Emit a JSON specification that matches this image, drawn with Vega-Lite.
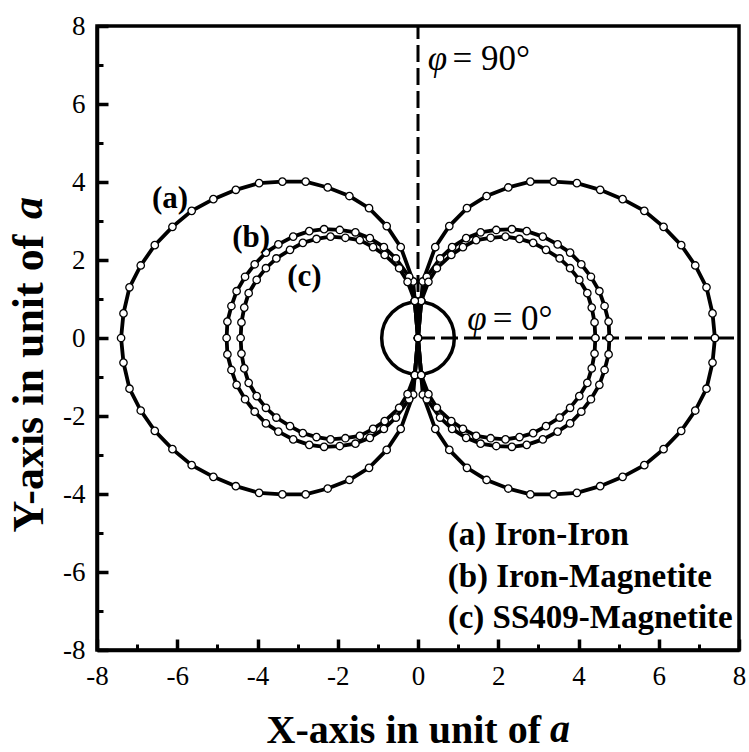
{
"$schema": "https://vega.github.io/schema/vega-lite/v6.json",
"width": 642, "height": 624,
"autosize": {"type": "none"},
"padding": {"left": 97, "top": 26, "right": 10, "bottom": 102},
"background": "white",
"config": {"view": {"stroke": "black", "strokeWidth": 3.5}, "font": "Liberation Serif",
  "axis": {"labelFont": "Liberation Serif", "labelFontSize": 27, "labelColor": "black", "titleFont": "Liberation Serif", "titleColor": "black"}},
"datasets": {
"curves": [
{"s":"a","o":0,"x":7.40,"y":0},{"s":"a","o":1,"x":7.34,"y":0.63},{"s":"a","o":2,"x":7.19,"y":1.30},{"s":"a","o":3,"x":6.91,"y":1.86},{"s":"a","o":4,"x":6.56,"y":2.38},{"s":"a","o":5,"x":6.12,"y":2.85},{"s":"a","o":6,"x":5.64,"y":3.26},{"s":"a","o":7,"x":5.10,"y":3.56},{"s":"a","o":8,"x":4.54,"y":3.80},{"s":"a","o":9,"x":3.96,"y":3.97},{"s":"a","o":10,"x":3.38,"y":4.01},{"s":"a","o":11,"x":2.80,"y":4.01},{"s":"a","o":12,"x":2.25,"y":3.86},{"s":"a","o":13,"x":1.71,"y":3.64},{"s":"a","o":14,"x":1.22,"y":3.33},{"s":"a","o":15,"x":0.78,"y":2.87},{"s":"a","o":16,"x":0.43,"y":2.33},{"s":"a","o":17,"x":0.12,"y":1.45},{"s":"a","o":18,"x":0.08,"y":0.95},
{"s":"a","o":19,"x":0,"y":0},
{"s":"a","o":20,"x":-0.08,"y":0.95},{"s":"a","o":21,"x":-0.12,"y":1.45},{"s":"a","o":22,"x":-0.43,"y":2.33},{"s":"a","o":23,"x":-0.78,"y":2.87},{"s":"a","o":24,"x":-1.22,"y":3.33},{"s":"a","o":25,"x":-1.71,"y":3.64},{"s":"a","o":26,"x":-2.25,"y":3.86},{"s":"a","o":27,"x":-2.80,"y":4.01},{"s":"a","o":28,"x":-3.38,"y":4.01},{"s":"a","o":29,"x":-3.96,"y":3.97},{"s":"a","o":30,"x":-4.54,"y":3.80},{"s":"a","o":31,"x":-5.10,"y":3.56},{"s":"a","o":32,"x":-5.64,"y":3.26},{"s":"a","o":33,"x":-6.12,"y":2.85},{"s":"a","o":34,"x":-6.56,"y":2.38},{"s":"a","o":35,"x":-6.91,"y":1.86},{"s":"a","o":36,"x":-7.19,"y":1.30},{"s":"a","o":37,"x":-7.34,"y":0.63},{"s":"a","o":38,"x":-7.40,"y":0},
{"s":"a","o":39,"x":-7.34,"y":-0.63},{"s":"a","o":40,"x":-7.19,"y":-1.30},{"s":"a","o":41,"x":-6.91,"y":-1.86},{"s":"a","o":42,"x":-6.56,"y":-2.38},{"s":"a","o":43,"x":-6.12,"y":-2.85},{"s":"a","o":44,"x":-5.64,"y":-3.26},{"s":"a","o":45,"x":-5.10,"y":-3.56},{"s":"a","o":46,"x":-4.54,"y":-3.80},{"s":"a","o":47,"x":-3.96,"y":-3.97},{"s":"a","o":48,"x":-3.38,"y":-4.01},{"s":"a","o":49,"x":-2.80,"y":-4.01},{"s":"a","o":50,"x":-2.25,"y":-3.86},{"s":"a","o":51,"x":-1.71,"y":-3.64},{"s":"a","o":52,"x":-1.22,"y":-3.33},{"s":"a","o":53,"x":-0.78,"y":-2.87},{"s":"a","o":54,"x":-0.43,"y":-2.33},{"s":"a","o":55,"x":-0.12,"y":-1.45},{"s":"a","o":56,"x":-0.08,"y":-0.95},
{"s":"a","o":57,"x":0,"y":0},
{"s":"a","o":58,"x":0.08,"y":-0.95},{"s":"a","o":59,"x":0.12,"y":-1.45},{"s":"a","o":60,"x":0.43,"y":-2.33},{"s":"a","o":61,"x":0.78,"y":-2.87},{"s":"a","o":62,"x":1.22,"y":-3.33},{"s":"a","o":63,"x":1.71,"y":-3.64},{"s":"a","o":64,"x":2.25,"y":-3.86},{"s":"a","o":65,"x":2.80,"y":-4.01},{"s":"a","o":66,"x":3.38,"y":-4.01},{"s":"a","o":67,"x":3.96,"y":-3.97},{"s":"a","o":68,"x":4.54,"y":-3.80},{"s":"a","o":69,"x":5.10,"y":-3.56},{"s":"a","o":70,"x":5.64,"y":-3.26},{"s":"a","o":71,"x":6.12,"y":-2.85},{"s":"a","o":72,"x":6.56,"y":-2.38},{"s":"a","o":73,"x":6.91,"y":-1.86},{"s":"a","o":74,"x":7.19,"y":-1.30},{"s":"a","o":75,"x":7.34,"y":-0.63},{"s":"a","o":76,"x":7.40,"y":0},

{"s":"b","o":0,"x":4.77,"y":0},{"s":"b","o":1,"x":4.75,"y":0.42},{"s":"b","o":2,"x":4.65,"y":0.82},{"s":"b","o":3,"x":4.52,"y":1.20},{"s":"b","o":4,"x":4.31,"y":1.57},{"s":"b","o":5,"x":4.07,"y":1.89},{"s":"b","o":6,"x":3.79,"y":2.19},{"s":"b","o":7,"x":3.48,"y":2.40},{"s":"b","o":8,"x":3.11,"y":2.60},{"s":"b","o":9,"x":2.71,"y":2.74},{"s":"b","o":10,"x":2.34,"y":2.79},{"s":"b","o":11,"x":1.95,"y":2.77},{"s":"b","o":12,"x":1.56,"y":2.71},{"s":"b","o":13,"x":1.20,"y":2.56},{"s":"b","o":14,"x":0.85,"y":2.33},{"s":"b","o":15,"x":0.55,"y":2.04},{"s":"b","o":16,"x":0.22,"y":1.57},{"s":"b","o":17,"x":0.08,"y":0.95},
{"s":"b","o":18,"x":0,"y":0},
{"s":"b","o":19,"x":-0.08,"y":0.95},{"s":"b","o":20,"x":-0.22,"y":1.57},{"s":"b","o":21,"x":-0.55,"y":2.04},{"s":"b","o":22,"x":-0.85,"y":2.33},{"s":"b","o":23,"x":-1.20,"y":2.56},{"s":"b","o":24,"x":-1.56,"y":2.71},{"s":"b","o":25,"x":-1.95,"y":2.77},{"s":"b","o":26,"x":-2.34,"y":2.79},{"s":"b","o":27,"x":-2.71,"y":2.74},{"s":"b","o":28,"x":-3.11,"y":2.60},{"s":"b","o":29,"x":-3.48,"y":2.40},{"s":"b","o":30,"x":-3.79,"y":2.19},{"s":"b","o":31,"x":-4.07,"y":1.89},{"s":"b","o":32,"x":-4.31,"y":1.57},{"s":"b","o":33,"x":-4.52,"y":1.20},{"s":"b","o":34,"x":-4.65,"y":0.82},{"s":"b","o":35,"x":-4.75,"y":0.42},{"s":"b","o":36,"x":-4.77,"y":0},
{"s":"b","o":37,"x":-4.75,"y":-0.42},{"s":"b","o":38,"x":-4.65,"y":-0.82},{"s":"b","o":39,"x":-4.52,"y":-1.20},{"s":"b","o":40,"x":-4.31,"y":-1.57},{"s":"b","o":41,"x":-4.07,"y":-1.89},{"s":"b","o":42,"x":-3.79,"y":-2.19},{"s":"b","o":43,"x":-3.48,"y":-2.40},{"s":"b","o":44,"x":-3.11,"y":-2.60},{"s":"b","o":45,"x":-2.71,"y":-2.74},{"s":"b","o":46,"x":-2.34,"y":-2.79},{"s":"b","o":47,"x":-1.95,"y":-2.77},{"s":"b","o":48,"x":-1.56,"y":-2.71},{"s":"b","o":49,"x":-1.20,"y":-2.56},{"s":"b","o":50,"x":-0.85,"y":-2.33},{"s":"b","o":51,"x":-0.55,"y":-2.04},{"s":"b","o":52,"x":-0.22,"y":-1.57},{"s":"b","o":53,"x":-0.08,"y":-0.95},
{"s":"b","o":54,"x":0,"y":0},
{"s":"b","o":55,"x":0.08,"y":-0.95},{"s":"b","o":56,"x":0.22,"y":-1.57},{"s":"b","o":57,"x":0.55,"y":-2.04},{"s":"b","o":58,"x":0.85,"y":-2.33},{"s":"b","o":59,"x":1.20,"y":-2.56},{"s":"b","o":60,"x":1.56,"y":-2.71},{"s":"b","o":61,"x":1.95,"y":-2.77},{"s":"b","o":62,"x":2.34,"y":-2.79},{"s":"b","o":63,"x":2.71,"y":-2.74},{"s":"b","o":64,"x":3.11,"y":-2.60},{"s":"b","o":65,"x":3.48,"y":-2.40},{"s":"b","o":66,"x":3.79,"y":-2.19},{"s":"b","o":67,"x":4.07,"y":-1.89},{"s":"b","o":68,"x":4.31,"y":-1.57},{"s":"b","o":69,"x":4.52,"y":-1.20},{"s":"b","o":70,"x":4.65,"y":-0.82},{"s":"b","o":71,"x":4.75,"y":-0.42},{"s":"b","o":72,"x":4.77,"y":0},

{"s":"c","o":0,"x":4.42,"y":0},{"s":"c","o":1,"x":4.40,"y":0.40},{"s":"c","o":2,"x":4.33,"y":0.78},{"s":"c","o":3,"x":4.22,"y":1.15},{"s":"c","o":4,"x":4.02,"y":1.49},{"s":"c","o":5,"x":3.79,"y":1.79},{"s":"c","o":6,"x":3.53,"y":2.04},{"s":"c","o":7,"x":3.19,"y":2.26},{"s":"c","o":8,"x":2.87,"y":2.44},{"s":"c","o":9,"x":2.53,"y":2.54},{"s":"c","o":10,"x":2.18,"y":2.60},{"s":"c","o":11,"x":1.81,"y":2.57},{"s":"c","o":12,"x":1.45,"y":2.51},{"s":"c","o":13,"x":1.12,"y":2.33},{"s":"c","o":14,"x":0.83,"y":2.13},{"s":"c","o":15,"x":0.47,"y":1.79},{"s":"c","o":16,"x":0.26,"y":1.44},{"s":"c","o":17,"x":0.08,"y":0.95},
{"s":"c","o":18,"x":0,"y":0},
{"s":"c","o":19,"x":-0.08,"y":0.95},{"s":"c","o":20,"x":-0.26,"y":1.44},{"s":"c","o":21,"x":-0.47,"y":1.79},{"s":"c","o":22,"x":-0.83,"y":2.13},{"s":"c","o":23,"x":-1.12,"y":2.33},{"s":"c","o":24,"x":-1.45,"y":2.51},{"s":"c","o":25,"x":-1.81,"y":2.57},{"s":"c","o":26,"x":-2.18,"y":2.60},{"s":"c","o":27,"x":-2.53,"y":2.54},{"s":"c","o":28,"x":-2.87,"y":2.44},{"s":"c","o":29,"x":-3.19,"y":2.26},{"s":"c","o":30,"x":-3.53,"y":2.04},{"s":"c","o":31,"x":-3.79,"y":1.79},{"s":"c","o":32,"x":-4.02,"y":1.49},{"s":"c","o":33,"x":-4.22,"y":1.15},{"s":"c","o":34,"x":-4.33,"y":0.78},{"s":"c","o":35,"x":-4.40,"y":0.40},{"s":"c","o":36,"x":-4.42,"y":0},
{"s":"c","o":37,"x":-4.40,"y":-0.40},{"s":"c","o":38,"x":-4.33,"y":-0.78},{"s":"c","o":39,"x":-4.22,"y":-1.15},{"s":"c","o":40,"x":-4.02,"y":-1.49},{"s":"c","o":41,"x":-3.79,"y":-1.79},{"s":"c","o":42,"x":-3.53,"y":-2.04},{"s":"c","o":43,"x":-3.19,"y":-2.26},{"s":"c","o":44,"x":-2.87,"y":-2.44},{"s":"c","o":45,"x":-2.53,"y":-2.54},{"s":"c","o":46,"x":-2.18,"y":-2.60},{"s":"c","o":47,"x":-1.81,"y":-2.57},{"s":"c","o":48,"x":-1.45,"y":-2.51},{"s":"c","o":49,"x":-1.12,"y":-2.33},{"s":"c","o":50,"x":-0.83,"y":-2.13},{"s":"c","o":51,"x":-0.47,"y":-1.79},{"s":"c","o":52,"x":-0.26,"y":-1.44},{"s":"c","o":53,"x":-0.08,"y":-0.95},
{"s":"c","o":54,"x":0,"y":0},
{"s":"c","o":55,"x":0.08,"y":-0.95},{"s":"c","o":56,"x":0.26,"y":-1.44},{"s":"c","o":57,"x":0.47,"y":-1.79},{"s":"c","o":58,"x":0.83,"y":-2.13},{"s":"c","o":59,"x":1.12,"y":-2.33},{"s":"c","o":60,"x":1.45,"y":-2.51},{"s":"c","o":61,"x":1.81,"y":-2.57},{"s":"c","o":62,"x":2.18,"y":-2.60},{"s":"c","o":63,"x":2.53,"y":-2.54},{"s":"c","o":64,"x":2.87,"y":-2.44},{"s":"c","o":65,"x":3.19,"y":-2.26},{"s":"c","o":66,"x":3.53,"y":-2.04},{"s":"c","o":67,"x":3.79,"y":-1.79},{"s":"c","o":68,"x":4.02,"y":-1.49},{"s":"c","o":69,"x":4.22,"y":-1.15},{"s":"c","o":70,"x":4.33,"y":-0.78},{"s":"c","o":71,"x":4.40,"y":-0.40},{"s":"c","o":72,"x":4.42,"y":0}
]
},
"layer": [
{
"data": {"values": [{"x": 0, "y": 0, "x2": 0, "y2": 8}, {"x": 0, "y": 0, "x2": 8, "y2": 0}]},
"mark": {"type": "rule", "strokeDash": [17, 6], "strokeWidth": 3, "color": "black"},
"encoding": {
"x": {"field": "x", "type": "quantitative", "scale": {"domain": [-8, 8], "nice": false, "zero": false}, "axis": null},
"y": {"field": "y", "type": "quantitative", "scale": {"domain": [-8, 8], "nice": false, "zero": false}, "axis": null},
"x2": {"field": "x2"}, "y2": {"field": "y2"}
}
},
{
"data": {"values": [{"x": 0, "y": 0}]},
"mark": {"type": "point", "shape": "circle", "filled": false, "size": 5281, "stroke": "black", "strokeWidth": 3.5, "opacity": 1},
"encoding": {
"x": {"field": "x", "type": "quantitative", "axis": null},
"y": {"field": "y", "type": "quantitative", "axis": null}
}
},
{
"data": {"name": "curves"},
"mark": {"type": "line", "color": "black", "strokeWidth": 3.8},
"encoding": {
"x": {"field": "x", "type": "quantitative", "axis": {"orient": "bottom", "values": [-8, -6, -4, -2, 0, 2, 4, 6, 8], "tickSize": -11, "tickWidth": 3.5, "tickColor": "black", "domainColor": "black", "domainWidth": 3.5, "labelFont": "Liberation Serif", "labelFontSize": 27, "labelColor": "black", "labelPadding": 24, "labelExpr": "'' + datum.value", "labelFlush": false, "labelOverlap": false, "grid": false, "title": "X-axis in unit of", "titleFont": "Liberation Serif", "titleFontSize": 40, "titleFontWeight": "bold", "titleColor": "black", "titleBaseline": "alphabetic", "titleAlign": "left", "titleAnchor": "start", "titleX": 169, "titleY": 92}},
"y": {"field": "y", "type": "quantitative", "axis": {"orient": "left", "values": [-8, -6, -4, -2, 0, 2, 4, 6, 8], "tickSize": -11, "tickWidth": 3.5, "tickColor": "black", "domainColor": "black", "domainWidth": 3.5, "labelFont": "Liberation Serif", "labelFontSize": 27, "labelColor": "black", "labelPadding": 23, "labelExpr": "'' + datum.value", "labelFlush": false, "labelOverlap": false, "grid": false, "title": "Y-axis in unit of", "titleFont": "Liberation Serif", "titleFontSize": 44, "titleFontWeight": "bold", "titleColor": "black", "titleAngle": 270, "titleBaseline": "alphabetic", "titleAlign": "left", "titleAnchor": "start", "titleX": -55, "titleY": 506}},
"detail": {"field": "s"},
"order": {"field": "o", "type": "quantitative"}
}
},
{
"data": {"name": "curves"},
"mark": {"type": "point", "shape": "circle", "filled": true, "fill": "white", "stroke": "black", "strokeWidth": 1.3, "size": 55, "opacity": 1},
"encoding": {
"x": {"field": "x", "type": "quantitative", "axis": null},
"y": {"field": "y", "type": "quantitative", "axis": null}
}
},
{
"data": {"values": [{"x": -6.18, "y": 3.33, "t": "(a)"}, {"x": -4.16, "y": 2.33, "t": "(b)"}, {"x": -2.83, "y": 1.33, "t": "(c)"}]},
"mark": {"type": "text", "font": "Liberation Serif", "fontSize": 31, "fontWeight": "bold", "align": "center", "baseline": "alphabetic", "color": "black"},
"encoding": {"x": {"field": "x", "type": "quantitative", "axis": null}, "y": {"field": "y", "type": "quantitative", "axis": null}, "text": {"field": "t"}}
},
{
"data": {"values": [{"x": 0.74, "y": -5.31, "t": "(a) Iron-Iron"}, {"x": 0.74, "y": -6.39, "t": "(b) Iron-Magnetite"}, {"x": 0.74, "y": -7.44, "t": "(c) SS409-Magnetite"}]},
"mark": {"type": "text", "font": "Liberation Serif", "fontSize": 33, "fontWeight": "bold", "align": "left", "baseline": "alphabetic", "color": "black"},
"encoding": {"x": {"field": "x", "type": "quantitative", "axis": null}, "y": {"field": "y", "type": "quantitative", "axis": null}, "text": {"field": "t"}}
},
{
"data": {"values": [{"x": 0.24, "y": 6.87, "t": "φ"}, {"x": 1.23, "y": 0.2, "t": "φ"}]},
"mark": {"type": "text", "font": "Liberation Serif", "fontSize": 35, "fontStyle": "italic", "align": "left", "baseline": "alphabetic", "color": "black"},
"encoding": {"x": {"field": "x", "type": "quantitative", "axis": null}, "y": {"field": "y", "type": "quantitative", "axis": null}, "text": {"field": "t"}}
},
{
"data": {"values": [{"x": 0.86, "y": 6.87, "t": "= 90°"}, {"x": 1.86, "y": 0.2, "t": "= 0°"}]},
"mark": {"type": "text", "font": "Liberation Serif", "fontSize": 35, "align": "left", "baseline": "alphabetic", "color": "black"},
"encoding": {"x": {"field": "x", "type": "quantitative", "axis": null}, "y": {"field": "y", "type": "quantitative", "axis": null}, "text": {"field": "t"}}
},
{
"data": {"values": [{"x": 3.29, "y": -10.36, "t": "a"}]},
"mark": {"type": "text", "font": "Liberation Serif", "fontSize": 40, "fontWeight": "bold", "fontStyle": "italic", "align": "left", "baseline": "alphabetic", "color": "black"},
"encoding": {"x": {"field": "x", "type": "quantitative", "axis": null}, "y": {"field": "y", "type": "quantitative", "axis": null}, "text": {"field": "t"}}
},
{
"data": {"values": [{"x": -9.38, "y": 3.05, "t": "a"}]},
"mark": {"type": "text", "font": "Liberation Serif", "fontSize": 44, "fontWeight": "bold", "fontStyle": "italic", "angle": 270, "align": "left", "baseline": "alphabetic", "color": "black"},
"encoding": {"x": {"field": "x", "type": "quantitative", "axis": null}, "y": {"field": "y", "type": "quantitative", "axis": null}, "text": {"field": "t"}}
},
{
"data": {"values": [{"x": 0, "y": 0}]},
"mark": {"type": "point", "opacity": 0},
"encoding": {
"x": {"field": "x", "type": "quantitative", "axis": {"orient": "bottom", "values": [-7, -5, -3, -1, 1, 3, 5, 7], "tickSize": -6, "tickWidth": 3, "tickColor": "black", "labels": false, "domain": false, "grid": false, "title": null}},
"y": {"field": "y", "type": "quantitative", "axis": {"orient": "left", "values": [-7, -5, -3, -1, 1, 3, 5, 7], "tickSize": -6, "tickWidth": 3, "tickColor": "black", "labels": false, "domain": false, "grid": false, "title": null}}
}
}
],
"resolve": {"axis": {"x": "independent", "y": "independent"}}
}
